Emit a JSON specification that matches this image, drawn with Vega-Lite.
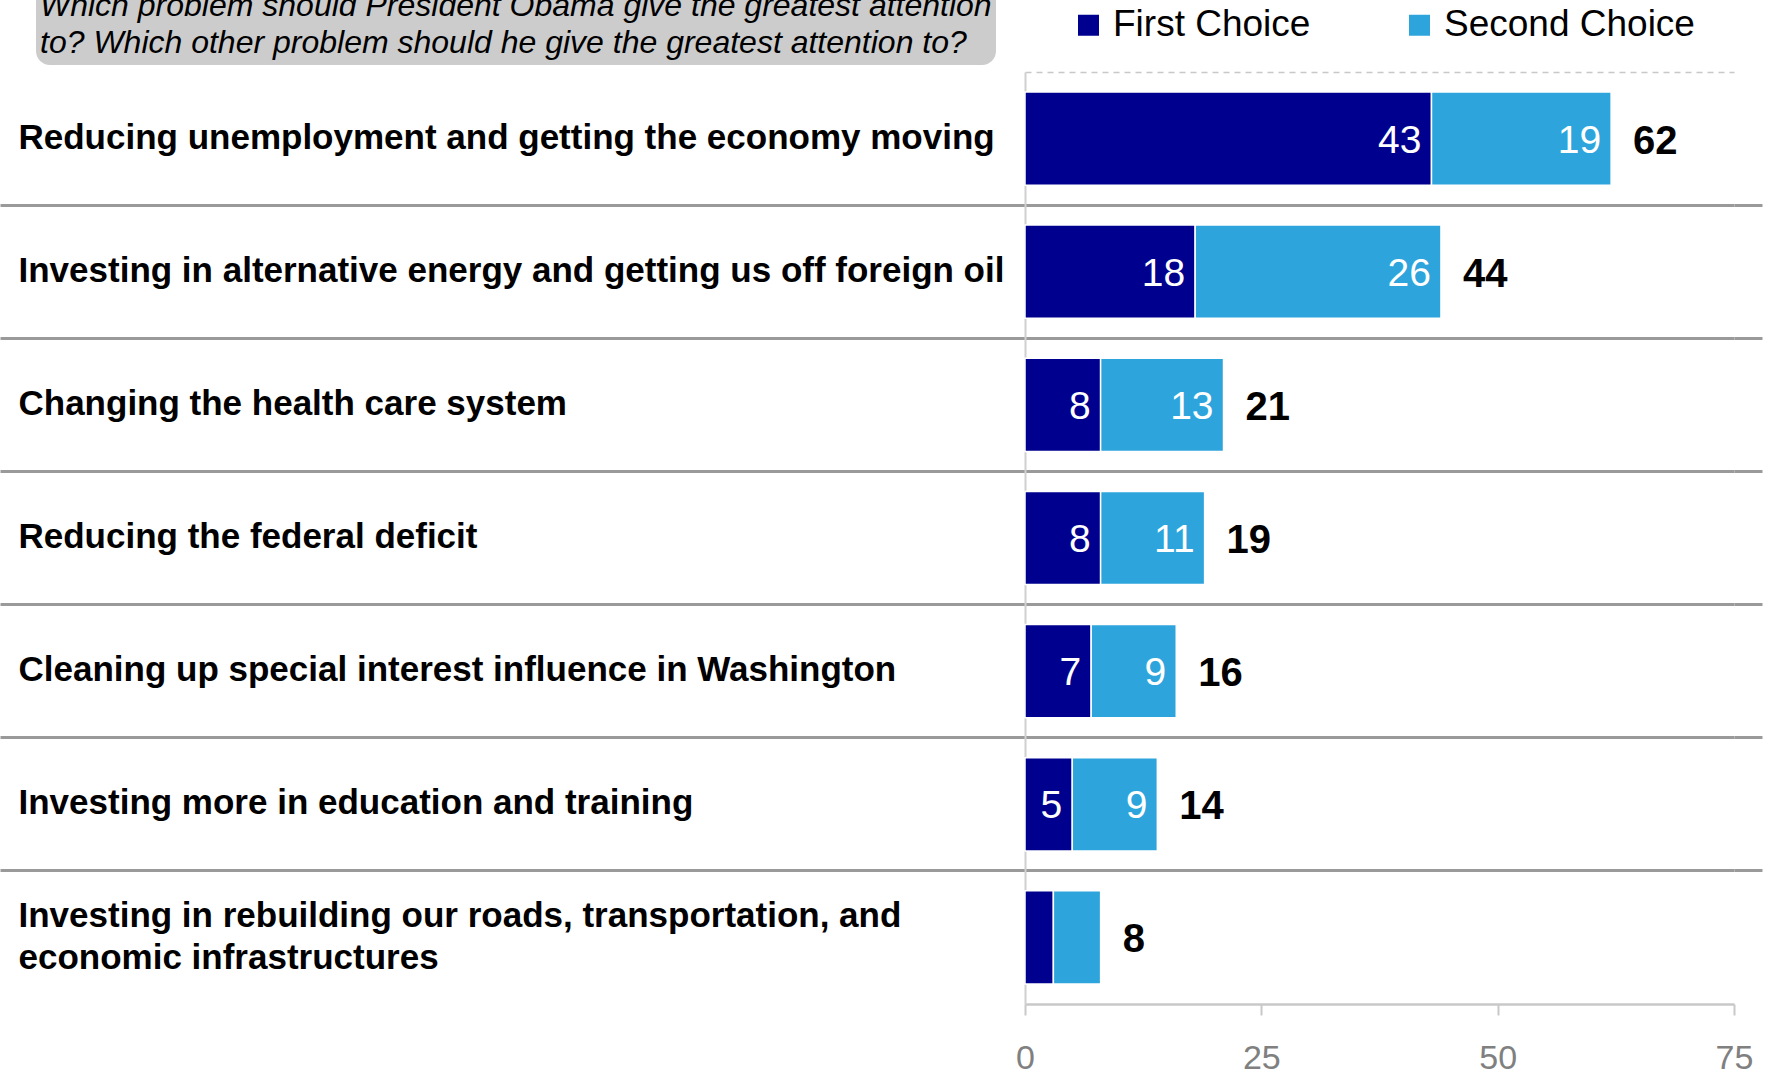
{
  "$schema": "https://vega.github.io/schema/vega-lite/v6.json",
  "background": "white",
  "autosize": {"type": "none"},
  "padding": {"left": 1025, "top": 72, "right": 40, "bottom": 68},
  "width": 709,
  "height": 932,
  "config": {"view": {"stroke": null}, "font": "Liberation Sans"},
  "data": {"values": [
    {"item": "Reducing unemployment and getting the economy moving", "choice": "First Choice", "value": 43},
    {"item": "Reducing unemployment and getting the economy moving", "choice": "Second Choice", "value": 19},
    {"item": "Investing in alternative energy and getting us off foreign oil", "choice": "First Choice", "value": 18},
    {"item": "Investing in alternative energy and getting us off foreign oil", "choice": "Second Choice", "value": 26},
    {"item": "Changing the health care system", "choice": "First Choice", "value": 8},
    {"item": "Changing the health care system", "choice": "Second Choice", "value": 13},
    {"item": "Reducing the federal deficit", "choice": "First Choice", "value": 8},
    {"item": "Reducing the federal deficit", "choice": "Second Choice", "value": 11},
    {"item": "Cleaning up special interest influence in Washington", "choice": "First Choice", "value": 7},
    {"item": "Cleaning up special interest influence in Washington", "choice": "Second Choice", "value": 9},
    {"item": "Investing more in education and training", "choice": "First Choice", "value": 5},
    {"item": "Investing more in education and training", "choice": "Second Choice", "value": 9},
    {"item": "Investing in rebuilding our roads, transportation, and economic infrastructures", "choice": "First Choice", "value": 3},
    {"item": "Investing in rebuilding our roads, transportation, and economic infrastructures", "choice": "Second Choice", "value": 5}
  ]},
  "transform": [
    {"stack": "value", "groupby": ["item"], "sort": [{"field": "choice", "order": "ascending"}], "as": ["v0", "v1"]}
  ],
  "layer": [
    {
      "mark": {"type": "bar", "stroke": "white", "strokeWidth": 1.5},
      "encoding": {
        "y": {
          "field": "item", "type": "nominal",
          "sort": ["Reducing unemployment and getting the economy moving", "Investing in alternative energy and getting us off foreign oil", "Changing the health care system", "Reducing the federal deficit", "Cleaning up special interest influence in Washington", "Investing more in education and training", "Investing in rebuilding our roads, transportation, and economic infrastructures"],
          "scale": {"paddingInner": 0.3, "paddingOuter": 0.15},
          "axis": {
            "orient": "left", "title": null,
            "domain": true, "domainColor": "#d0d0d0", "domainWidth": 2,
            "ticks": true, "tickSize": 1025, "tickWidth": 3,
            "tickColor": {"condition": {"test": "datum.value === 'Reducing unemployment and getting the economy moving'", "value": "rgba(0,0,0,0)"}, "value": "#9a9a9a"},
            "bandPosition": -0.2142857,
            "grid": true,
            "gridColor": {"condition": {"test": "datum.value === 'Reducing unemployment and getting the economy moving'", "value": "#c8c8c8"}, "value": "#9a9a9a"},
            "gridWidth": {"condition": {"test": "datum.value === 'Reducing unemployment and getting the economy moving'", "value": 1.5}, "value": 3},
            "gridDash": {"condition": {"test": "datum.value === 'Reducing unemployment and getting the economy moving'", "value": [6, 5]}, "value": []},
            "labelAlign": "left", "labelBaseline": "middle", "labelPadding": -18,
            "labelOffset": {"condition": {"test": "datum.value === 'Investing in rebuilding our roads, transportation, and economic infrastructures'", "value": -21}, "value": -1},
            "labelFont": "Liberation Sans", "labelFontSize": 35, "labelFontWeight": "bold", "labelColor": "black",
            "labelLimit": 0, "labelOverlap": false, "labelLineHeight": 42,
            "labelExpr": "datum.value === 'Investing in rebuilding our roads, transportation, and economic infrastructures' ? ['Investing in rebuilding our roads, transportation, and', 'economic infrastructures'] : datum.label"
          }
        },
        "x": {
          "field": "v0", "type": "quantitative",
          "scale": {"domain": [0, 75], "nice": false},
          "axis": {
            "orient": "bottom", "title": null, "values": [0, 25, 50, 75], "grid": false,
            "domainColor": "#c8c8c8", "domainWidth": 2.5,
            "tickColor": "#c8c8c8", "tickWidth": 2, "tickSize": 11,
            "labelFont": "Liberation Sans", "labelFontSize": 34, "labelColor": "#808080", "labelPadding": 26, "labelFlush": false
          }
        },
        "x2": {"field": "v1"},
        "color": {
          "field": "choice", "type": "nominal",
          "scale": {"domain": ["First Choice", "Second Choice"], "range": ["#00008f", "#2da5dc"]},
          "legend": {
            "orient": "none", "legendX": 45, "legendY": -65.5, "direction": "horizontal", "title": null,
            "symbolType": "square", "symbolSize": 441, "symbolStrokeWidth": 0,
            "labelFont": "Liberation Sans", "labelFontSize": 37, "labelColor": "black", "labelOffset": 6, "labelLimit": 0,
            "columnPadding": 90, "padding": 0
          }
        }
      }
    },
    {
      "transform": [{"filter": "datum.item !== 'Investing in rebuilding our roads, transportation, and economic infrastructures'"}],
      "mark": {"type": "text", "align": "right", "baseline": "middle", "dx": -10, "dy": 2, "font": "Liberation Sans", "fontSize": 39, "color": "white"},
      "encoding": {
        "y": {
          "field": "item", "type": "nominal",
          "sort": ["Reducing unemployment and getting the economy moving", "Investing in alternative energy and getting us off foreign oil", "Changing the health care system", "Reducing the federal deficit", "Cleaning up special interest influence in Washington", "Investing more in education and training", "Investing in rebuilding our roads, transportation, and economic infrastructures"],
          "axis": {
            "orient": "right", "title": null, "domain": false, "labels": false, "grid": false,
            "ticks": true, "tickSize": 28, "tickWidth": 3,
            "tickColor": {"condition": {"test": "datum.value === 'Reducing unemployment and getting the economy moving'", "value": "rgba(0,0,0,0)"}, "value": "#9a9a9a"},
            "bandPosition": -0.2142857
          }
        },
        "x": {"field": "v1", "type": "quantitative"},
        "text": {"field": "value", "type": "quantitative"}
      }
    },
    {
      "transform": [{"aggregate": [{"op": "sum", "field": "value", "as": "total"}], "groupby": ["item"]}],
      "mark": {"type": "text", "align": "left", "baseline": "middle", "dx": 22, "dy": 3, "font": "Liberation Sans", "fontSize": 40, "fontWeight": "bold", "color": "black"},
      "encoding": {
        "y": {
          "field": "item", "type": "nominal",
          "sort": ["Reducing unemployment and getting the economy moving", "Investing in alternative energy and getting us off foreign oil", "Changing the health care system", "Reducing the federal deficit", "Cleaning up special interest influence in Washington", "Investing more in education and training", "Investing in rebuilding our roads, transportation, and economic infrastructures"],
          "axis": null
        },
        "x": {"field": "total", "type": "quantitative"},
        "text": {"field": "total", "type": "quantitative"},
        "stroke": {
          "datum": "question", "type": "nominal",
          "scale": {"domain": ["question"], "range": ["rgba(0,0,0,0)"]},
          "legend": {
            "orient": "none", "legendX": -989, "legendY": -85,
            "title": ["Which problem should President Obama give the greatest attention", "to? Which other problem should he give the greatest attention to?"],
            "titleFont": "Liberation Sans", "titleFontSize": 32, "titleFontStyle": "italic", "titleFontWeight": "normal", "titleColor": "black",
            "titleLineHeight": 37, "titleLimit": 0, "titlePadding": 0, "titleAlign": "left",
            "fillColor": "#cccccc", "cornerRadius": 14, "padding": 4,
            "symbolOpacity": 0, "symbolSize": 1, "symbolStrokeWidth": 0,
            "labelOpacity": 0, "labelFontSize": 1, "labelLimit": 0
          }
        }
      }
    }
  ],
  "resolve": {"axis": {"y": "independent"}}
}
